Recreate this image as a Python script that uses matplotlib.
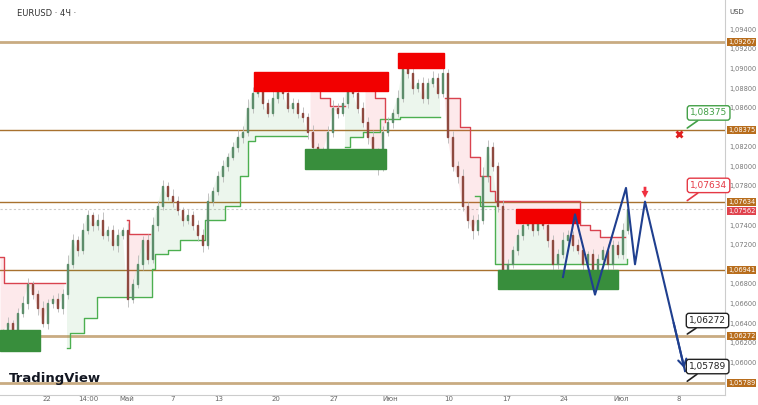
import matplotlib.pyplot as plt
from matplotlib.patches import Rectangle
import numpy as np

# closes of the candles, one every 5 px in the reference
closes = [1.0630, 1.0640, 1.0625, 1.0650, 1.0660, 1.0680, 1.0670, 1.0655, 1.0640, 1.0660,
          1.0665, 1.0655, 1.0670, 1.0700, 1.0725, 1.0715, 1.0735, 1.0750, 1.0740, 1.0745,
          1.0730, 1.0735, 1.0720, 1.0730, 1.0735, 1.0665, 1.0680, 1.0700, 1.0725, 1.0705,
          1.0740, 1.0760, 1.0780, 1.0770, 1.0765, 1.0755, 1.0745, 1.0750, 1.0740, 1.0730,
          1.0720, 1.0765, 1.0775, 1.0790, 1.0800, 1.0810, 1.0820, 1.0830, 1.0835, 1.0860,
          1.0875, 1.0885, 1.0865, 1.0855, 1.0870, 1.0880, 1.0875, 1.0860, 1.0865, 1.0855,
          1.0850, 1.0835, 1.0820, 1.0810, 1.0815, 1.0835, 1.0860, 1.0855, 1.0865, 1.0880,
          1.0875, 1.0860, 1.0845, 1.0830, 1.0815, 1.0800, 1.0835, 1.0845, 1.0855, 1.0870,
          1.0900, 1.0895, 1.0880, 1.0885, 1.0870, 1.0885, 1.0890, 1.0875, 1.0895, 1.0830,
          1.0800, 1.0790, 1.0760, 1.0745, 1.0735, 1.0745, 1.0790, 1.0820, 1.0800, 1.0760,
          1.0690, 1.0700, 1.0715, 1.0730, 1.0740, 1.0745, 1.0735, 1.0750, 1.0740, 1.0725,
          1.0700, 1.0710, 1.0725, 1.0730, 1.0720, 1.0715, 1.0700, 1.0710, 1.0695, 1.0705,
          1.0715, 1.0700, 1.0720, 1.0710, 1.0735, 1.0756]
wick_up = [4, 6, 3, 5, 8, 6, 3, 4, 7, 5, 4, 6, 5, 9, 6, 4, 7, 5, 3, 6,
           8, 4, 5, 6, 3, 7, 5, 9, 4, 6, 8, 5, 6, 4, 7, 5, 3, 6, 4, 5,
           6, 8, 4, 5, 6, 4, 5, 7, 6, 9, 6, 8, 5, 4, 7, 5, 4, 6, 5, 4,
           6, 5, 7, 4, 5, 6, 8, 5, 6, 9, 5, 4, 6, 5, 7, 4, 6, 5, 4, 8,
           9, 6, 5, 4, 6, 5, 7, 5, 14, 4, 6, 5, 7, 4, 5, 6, 9, 7, 5, 4,
           6, 5, 4, 6, 5, 7, 4, 5, 6, 4, 5, 6, 8, 5, 4, 6, 5, 4, 6, 5,
           4, 6, 5, 4, 7, 5]
wick_dn = [6, 4, 8, 5, 4, 6, 5, 7, 4, 6, 5, 4, 6, 5, 4, 7, 5, 4, 6, 5,
           4, 6, 5, 7, 4, 9, 5, 4, 6, 5, 4, 6, 5, 4, 7, 5, 6, 4, 5, 6,
           7, 4, 5, 4, 6, 5, 4, 5, 6, 4, 5, 4, 6, 5, 4, 5, 6, 4, 5, 6,
           5, 7, 6, 8, 5, 4, 5, 6, 4, 5, 4, 6, 5, 7, 8, 9, 5, 4, 6, 5,
           4, 5, 6, 4, 5, 6, 4, 5, 4, 6, 5, 7, 6, 8, 9, 5, 4, 6, 5, 7,
           9, 5, 4, 6, 5, 4, 6, 5, 4, 7, 6, 5, 4, 5, 6, 5, 7, 4, 6, 5,
           4, 6, 5, 4, 5, 4]

levels = [1.09267, 1.08375, 1.07634, 1.06941, 1.06272, 1.05789]
level_major = [True, False, False, False, True, True]
last_price = 1.07562

# (x0, x1, low, high) in candle index / price
red_zones = [(50.8, 77.6, 1.0877, 1.0896), (79.6, 88.8, 1.0900, 1.0916), (103.2, 115.8, 1.0742, 1.0756)]
green_zones = [(61.0, 77.2, 1.0797, 1.0818), (0.0, 8.0, 1.0611, 1.0633), (99.6, 123.6, 1.0675, 1.0694)]

# trailing stop steps (segments)
green_steps = [
    ([13.4, 14.0, 16.8, 19.4, 30.4, 31.0, 33.6, 36.0, 41.0, 45.0, 48.0, 49.6, 51.0, 61.4],
     [1.0615, 1.0630, 1.0645, 1.0667, 1.0695, 1.0710, 1.0715, 1.0725, 1.0745, 1.0760, 1.0790, 1.0826, 1.0831, 1.0831]),
    ([69.0, 70.0, 72.6, 76.0, 80.0, 88.0],
     [1.0820, 1.0830, 1.0835, 1.0848, 1.0850, 1.0850]),
    ([95.0, 96.0, 99.0, 124.0, 125.4],
     [1.0770, 1.0760, 1.0700, 1.0700, 1.0705]),
]
red_steps = [
    ([0.0, 0.8, 13.0], [1.0707, 1.0681, 1.0681]),
    ([25.4, 25.8, 30.0], [1.0745, 1.0731, 1.0731]),
    ([62.0, 64.0, 66.0, 69.0], [1.0880, 1.0870, 1.0862, 1.0862]),
    ([73.0, 75.0, 77.0], [1.0890, 1.0870, 1.0845]),
    ([89.0, 92.0, 94.0, 96.0, 98.0, 99.0, 116.0, 118.0, 120.0, 125.0],
     [1.0870, 1.0840, 1.0810, 1.0790, 1.0775, 1.0765, 1.0740, 1.0735, 1.0728, 1.0728]),
]

proj_x = [112.6, 115.0, 119.0, 125.2, 127.0, 129.0, 137.0]
proj_y = [1.0687, 1.0751, 1.0669, 1.0778, 1.0700, 1.0764, 1.0591]

xtick_pos = [9.4, 17.6, 25.4, 34.6, 43.8, 55.2, 66.8, 78.0, 89.8, 101.4, 112.8, 124.2, 135.8]
xtick_lab = ["22", "14:00", "Май", "7", "13", "20", "27", "Июн", "10", "17", "24", "Июл", "8"]


def fmt(v):
    return f"{v:.5f}".replace(".", ",")


fig = plt.figure(figsize=(7.58, 4.05), dpi=100)
ax = fig.add_axes([0.0, 10 / 405, 725 / 758, 395 / 405])
ax.set_xlim(0, 145)
ax.set_ylim(1.05665, 1.09699)

for lv, major in zip(levels, level_major):
    ax.axhline(lv, color="#c9ab82" if major else "#a8712e", lw=2.0 if major else 1.0, zorder=1)
ax.axhline(last_price, color="#cccccc", lw=0.8, ls=(0, (2, 2)), zorder=1)

cx = np.arange(len(closes)) + 0.5
cl = np.array(closes)
for sx, sy in green_steps:
    ax.step(sx, sy, where="post", color="#4caf50", lw=1.0, zorder=2)
    xs = np.linspace(sx[0], sx[-1], 200)
    ys = np.array(sy)[np.clip(np.searchsorted(sx, xs, side="right") - 1, 0, len(sy) - 1)]
    pc = np.interp(xs, cx, cl)
    ax.fill_between(xs, ys, pc, where=pc > ys, color="#4caf50", alpha=0.1, lw=0, zorder=1.5)
for sx, sy in red_steps:
    ax.step(sx, sy, where="post", color="#d9434f", lw=1.0, zorder=2)
    xs = np.linspace(sx[0], sx[-1], 200)
    ys = np.array(sy)[np.clip(np.searchsorted(sx, xs, side="right") - 1, 0, len(sy) - 1)]
    pc = np.interp(xs, cx, cl)
    ax.fill_between(xs, ys, pc, where=pc < ys, color="#f05060", alpha=0.12, lw=0, zorder=1.5)

opens = [closes[0]] + closes[:-1]
for i, (o, c) in enumerate(zip(opens, closes)):
    col = "#5d8d6b" if c >= o else "#8e4a40"
    x = i + 0.5
    ax.vlines(x, min(o, c) - wick_dn[i] * 0.0001, max(o, c) + wick_up[i] * 0.0001, color="#b8b8b8", lw=0.6, zorder=3)
    ax.add_patch(Rectangle((x - 0.18, min(o, c)), 0.36, max(abs(c - o), 0.00008), color=col, zorder=4))

for x0, x1, lo, hi in red_zones:
    ax.add_patch(Rectangle((x0, lo), x1 - x0, hi - lo, color="#f20000", zorder=5))
for x0, x1, lo, hi in green_zones:
    ax.add_patch(Rectangle((x0, lo), x1 - x0, hi - lo, color="#388e3c", zorder=5))

ax.plot(proj_x, proj_y, color="#1f3f8f", lw=1.5, zorder=6)
ax.annotate("", xy=(proj_x[-1], proj_y[-1]),
            xytext=(proj_x[-1] - 0.3 * (proj_x[-1] - proj_x[-2]), proj_y[-1] - 0.3 * (proj_y[-1] - proj_y[-2])),
            arrowprops=dict(arrowstyle="->,head_length=0.5,head_width=0.3", color="#1f3f8f", lw=1.5), zorder=6)
ax.plot(135.8, 1.0833, marker="x", color="#e02020", ms=5, mew=2, zorder=7)
ax.annotate("", xy=(129, 1.0765), xytext=(129, 1.0782),
            arrowprops=dict(arrowstyle="simple", color="#f03040", lw=0), zorder=7)

callouts = [(1.08375, "#43a047", 138.0, 1.0852), (1.07634, "#e53945", 138.0, 1.0778),
            (1.06272, "#222222", 137.8, 1.0640), (1.05789, "#222222", 137.8, 1.0593)]
for lv, col, tx, ty in callouts:
    ax.annotate(fmt(lv), xy=(137.0, lv), xytext=(tx, ty), fontsize=6.5, color=col,
                bbox=dict(boxstyle="round,pad=0.3", fc="white", ec=col, lw=1),
                arrowprops=dict(arrowstyle="-", color=col, lw=1.2, shrinkA=0), zorder=8)

ax.set_xticks(xtick_pos)
ax.set_xticklabels(xtick_lab, fontsize=5, color="#666666")
ax.tick_params(axis="x", length=0, pad=1)
ax.yaxis.tick_right()
yt = np.arange(1.060, 1.0941, 0.002)
yt = [v for v in yt if min(abs(v - lv) for lv in levels + [last_price]) > 0.0006]
ax.set_yticks(yt)
ax.set_yticklabels([fmt(v) for v in yt], fontsize=4.8, color="#777777")
ax.tick_params(axis="y", length=0, pad=3)
for s in ["top", "left"]:
    ax.spines[s].set_visible(False)
for s in ["right", "bottom"]:
    ax.spines[s].set_color("#cccccc")

for lv in levels:
    ax.text(1.004, lv, fmt(lv), transform=ax.get_yaxis_transform(), fontsize=4.8,
            color="white", va="center", bbox=dict(boxstyle="square,pad=0.15", fc="#b86d1c", ec="none"))
ax.text(1.004, last_price - 0.0002, fmt(last_price), transform=ax.get_yaxis_transform(),
        fontsize=4.8, color="white", va="center", bbox=dict(boxstyle="square,pad=0.15", fc="#e0434e", ec="none"))

fig.text(0.022, 0.978, "EURUSD · 4Ч ·", fontsize=6, color="#333333", va="top")
fig.text(0.962, 0.978, "USD", fontsize=5, color="#444444", va="top")
fig.text(0.012, 0.05, "TradingView", fontsize=9.5, color="#131722", weight="bold", va="bottom")

fig.savefig("out.png", dpi=100)
